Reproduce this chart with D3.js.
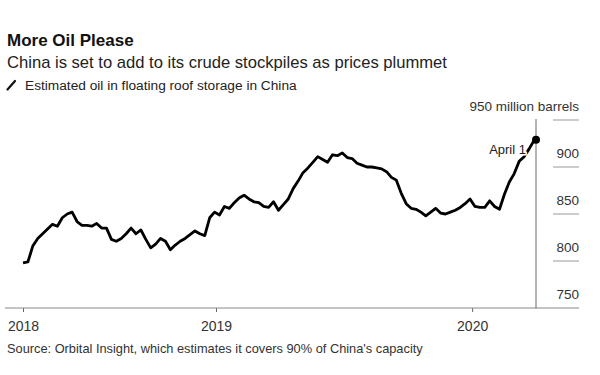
<!DOCTYPE html>
<html>
<head>
<meta charset="utf-8">
<script src="https://cdn.jsdelivr.net/npm/d3@7"></script>
<style>
  body { margin: 0; background: #fff; }
  svg { display: block; font-family: "Liberation Sans", Arial, sans-serif; }
</style>
</head>
<body>
<svg id="chart" width="600" height="375"></svg>
<script>
// weekly readings, starting 2018-04-01 (million barrels)
const startDate = new Date(2018, 3, 1);
const weeklyValues = [
  798, 799, 816, 824, 829, 834, 839, 837, 846, 850,
  852, 842, 838, 838, 837, 840, 835, 835, 823, 821,
  824, 829, 835, 829, 833, 823, 814, 818, 824, 821,
  812, 817, 821, 824, 828, 832, 829, 827, 846, 852,
  849, 858, 856, 862, 867, 870, 866, 863, 862, 858,
  857, 863, 854, 860, 866, 877, 885, 894, 899, 905,
  911, 908, 905, 913, 912, 915, 910, 909, 904, 902,
  900, 900, 899, 898, 895, 889, 886, 872, 861, 856,
  855, 852, 848, 852, 856, 851, 850, 852, 854, 857,
  861, 866, 858, 857, 857, 864, 858, 855, 871, 884,
  893, 906, 911, 919, 928
];
const lastDate = new Date(2020, 3, 1);
const lastValue = 929;

const yTicks = [750, 800, 850, 900, 950];
const xTicks = [new Date(2018, 3, 1), new Date(2019, 0, 1), new Date(2020, 0, 1)];
const xTickLabels = ["2018", "2019", "2020"];

const data = weeklyValues.map((v, i) => ({ date: d3.timeDay.offset(startDate, 7 * i), value: v }));
data.push({ date: lastDate, value: lastValue });

const svg = d3.select("#chart");

const x = d3.scaleTime()
  .domain([startDate, lastDate])
  .range([23, 536]);

const y = d3.scaleLinear()
  .domain([750, 950])
  .range([308, 120]);

// titles
svg.append("text").attr("x", 7).attr("y", 46)
  .attr("font-size", 17).attr("font-weight", "bold").attr("fill", "#111")
  .text("More Oil Please");
svg.append("text").attr("x", 7).attr("y", 67.5)
  .attr("font-size", 16.6).attr("fill", "#222")
  .text("China is set to add to its crude stockpiles as prices plummet");

// legend
svg.append("line").attr("x1", 7.5).attr("y1", 89.5).attr("x2", 15).attr("y2", 81)
  .attr("stroke", "#111").attr("stroke-width", 2.2).attr("stroke-linecap", "round");
svg.append("text").attr("x", 25).attr("y", 90)
  .attr("font-size", 13.7).attr("fill", "#222")
  .text("Estimated oil in floating roof storage in China");

// right-hand gridlines (short stubs)
svg.selectAll(".grid")
  .data(yTicks.filter(d => d > 750))
  .enter().append("line")
  .attr("class", "grid")
  .attr("x1", 553).attr("x2", 579)
  .attr("y1", d => y(d)).attr("y2", d => y(d))
  .attr("stroke", "#999").attr("stroke-width", 1);

svg.selectAll(".ylab")
  .data(yTicks)
  .enter().append("text")
  .attr("class", "ylab")
  .attr("x", 579).attr("y", d => y(d) - 9)
  .attr("text-anchor", "end")
  .attr("font-size", 13.5).attr("fill", "#333")
  .text(d => d === 950 ? "950 million barrels" : d);

// x axis
const xAxis = svg.append("g")
  .attr("transform", "translate(0,308)")
  .call(d3.axisBottom(x)
    .tickValues(xTicks)
    .tickSize(4)
    .tickFormat((d, i) => xTickLabels[i]));
xAxis.select(".domain").remove();
xAxis.append("line").attr("x1", 5).attr("x2", 579)
  .attr("stroke", "#888").attr("stroke-width", 1);
xAxis.selectAll(".tick line").attr("stroke", "#666");
xAxis.selectAll(".tick text")
  .attr("y", 23).attr("dy", 0)
  .attr("font-size", 14).attr("fill", "#333")
  .attr("font-family", "Liberation Sans, Arial, sans-serif");

// current date marker line
svg.append("line")
  .attr("x1", x(lastDate)).attr("x2", x(lastDate))
  .attr("y1", y(950) - 1).attr("y2", 308)
  .attr("stroke", "#666").attr("stroke-width", 1);

// the series
const line = d3.line()
  .x(d => x(d.date))
  .y(d => y(d.value));

svg.append("path")
  .datum(data)
  .attr("d", line)
  .attr("fill", "none")
  .attr("stroke", "#000")
  .attr("stroke-width", 2.8)
  .attr("stroke-linejoin", "round");

svg.append("circle")
  .attr("cx", x(lastDate)).attr("cy", y(lastValue))
  .attr("r", 4).attr("fill", "#000");

// annotation with white halo
svg.append("text")
  .attr("x", 526).attr("y", 154)
  .attr("text-anchor", "end")
  .attr("font-size", 13).attr("fill", "#222")
  .attr("stroke", "#fff").attr("stroke-width", 3)
  .attr("paint-order", "stroke")
  .text("April 1");

// source
svg.append("text").attr("x", 7).attr("y", 353)
  .attr("font-size", 12.8).attr("fill", "#333")
  .text("Source: Orbital Insight, which estimates it covers 90% of China's capacity");
</script>
</body>
</html>
